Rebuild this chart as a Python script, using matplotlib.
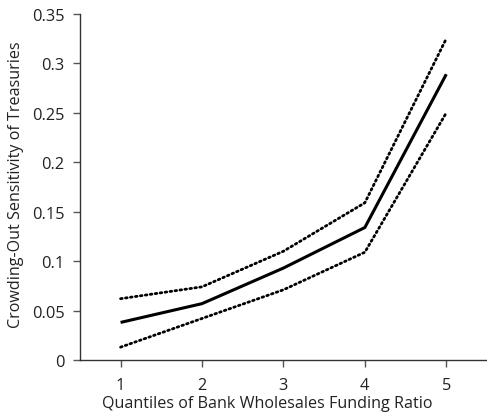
import matplotlib.pyplot as plt

# Crowding-out sensitivity by quantile, with confidence band
quantiles = [1, 2, 3, 4, 5]
estimate = [0.038, 0.057, 0.093, 0.134, 0.289]
upper = [0.062, 0.074, 0.110, 0.159, 0.325]
lower = [0.013, 0.042, 0.071, 0.109, 0.250]

plt.rcParams['font.family'] = ['Open Sans', 'DejaVu Sans']

fig = plt.figure(figsize=(4.87, 4.14), dpi=100)
ax = fig.add_axes([0.164, 0.128, 0.836, 0.836])

ax.plot(quantiles, estimate, color='black', lw=2.2, solid_capstyle='butt')
ax.plot(quantiles, upper, color='black', lw=2.0, linestyle=(0, (0.6, 1.2)), dash_capstyle='round')
ax.plot(quantiles, lower, color='black', lw=2.0, linestyle=(0, (0.6, 1.2)), dash_capstyle='round')

ax.set_xlim(0.5, 5.5)
ax.set_ylim(0, 0.35)
ax.set_xticks(quantiles)
ax.set_yticks([0, 0.05, 0.1, 0.15, 0.2, 0.25, 0.3, 0.35])
ax.set_yticklabels(['0', '0.05', '0.1', '0.15', '0.2', '0.25', '0.3', '0.35'])

for s in ['top', 'right']:
    ax.spines[s].set_visible(False)
for s in ['left', 'bottom']:
    ax.spines[s].set_color('#333333')
    ax.spines[s].set_linewidth(1.0)
ax.tick_params(direction='out', length=5, width=1, color='#555555', labelsize=11.8, colors='#222222')
ax.tick_params(axis='x', pad=7)
ax.tick_params(axis='y', pad=6)

ax.set_xlabel('Quantiles of Bank Wholesales Funding Ratio', fontsize=11.6, color='#222222', labelpad=2)
ax.set_ylabel('Crowding-Out Sensitivity of Treasuries', fontsize=11.6, color='#222222', labelpad=6)
ax.xaxis.label.set_x(0.46)
ax.yaxis.label.set_y(0.51)

fig.savefig('out.png', dpi=100)
